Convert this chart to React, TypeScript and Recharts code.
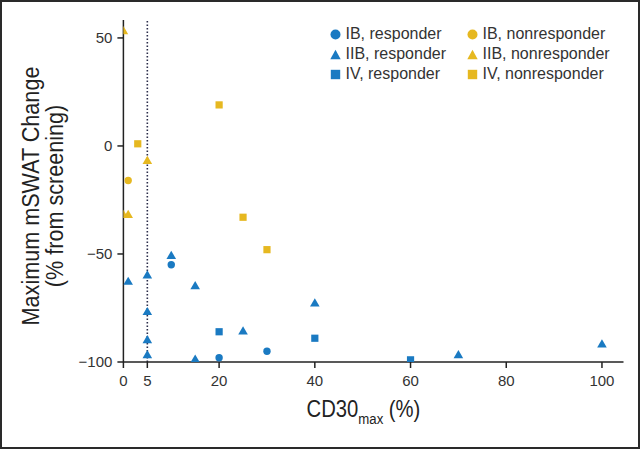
import React from "react";
import { ScatterChart, Scatter, XAxis, YAxis, ReferenceLine, Label } from "recharts";

const BLUE = "#1a7ac2";
const GOLD = "#e6b820";

// [CD30max %, max mSWAT change %]
const ibResponder: [number, number][] = [[10, -55], [20, -98], [30, -95]];
const ibNonresponder: [number, number][] = [[1, -16]];
const iibResponder: [number, number][] = [
  [1, -63], [5, -60], [5, -77], [5, -90], [5, -97], [10, -51],
  [15, -65], [15, -99], [25, -86], [40, -73], [70, -97], [100, -92],
];
const iibNonresponder: [number, number][] = [[0, 53], [0, -32], [1, -32], [5, -7]];
const ivResponder: [number, number][] = [[20, -86], [40, -89], [60, -99]];
const ivNonresponder: [number, number][] = [[3, 1], [20, 19], [25, -33], [30, -48]];

const xTicks = [0, 5, 20, 40, 60, 80, 100];
const yTicks = [-100, -50, 0, 50];

const titleFont = "'Liberation Sans', Arial, sans-serif";
const tickFont = "'Liberation Sans', Arial, sans-serif";

const pts = (a: [number, number][]) => a.map(([x, y]) => ({ x, y }));

const Dot = (p: any) => <circle cx={p.cx} cy={p.cy} r={3.7} fill={p.fill} />;
const Sq = (p: any) => <rect x={p.cx - 3.6} y={p.cy - 3.6} width={7.2} height={7.2} fill={p.fill} />;
const Tri = (p: any) => (
  <polygon
    points={`${p.cx},${p.cy - 5.4} ${p.cx - 4.8},${p.cy + 2.8} ${p.cx + 4.8},${p.cy + 2.8}`}
    fill={p.fill}
  />
);

const series = [
  { name: "IB, responder", data: ibResponder, color: BLUE, shape: Dot },
  { name: "IB, nonresponder", data: ibNonresponder, color: GOLD, shape: Dot },
  { name: "IIB, responder", data: iibResponder, color: BLUE, shape: Tri },
  { name: "IIB, nonresponder", data: iibNonresponder, color: GOLD, shape: Tri },
  { name: "IV, responder", data: ivResponder, color: BLUE, shape: Sq },
  { name: "IV, nonresponder", data: ivNonresponder, color: GOLD, shape: Sq },
];

function LegendMark({ shape, color }: { shape: any; color: string }) {
  let el;
  if (shape === Dot) el = <circle cx={5.5} cy={5.5} r={5} fill={color} />;
  else if (shape === Sq) el = <rect x={0.8} y={0.8} width={9.4} height={9.4} fill={color} />;
  else el = <polygon points="5.5,0.8 0.3,10.2 10.7,10.2" fill={color} />;
  return (
    <svg width={11} height={11} style={{ display: "block" }}>
      {el}
    </svg>
  );
}

function XTitle(props: any) {
  const vb = props.viewBox;
  const cx = vb.x + vb.width / 2 - 10;
  const y = vb.y + 55;
  return (
    <g transform={`translate(${cx}, ${y}) scale(0.88, 1)`}>
      <text x={0} y={0} textAnchor="middle" fill="#222" fontFamily={titleFont} fontSize={23}>
        CD30
        <tspan fontSize={15} dy={7}>max</tspan>
        <tspan dy={-7}> (%)</tspan>
      </text>
    </g>
  );
}

function YTitle(props: any) {
  const vb = props.viewBox;
  const cy = vb.y + vb.height / 2 + 5;
  return (
    <g fill="#222" fontFamily={titleFont} fontSize={24}>
      <text x={0} y={0} textAnchor="middle" transform={`translate(39, ${cy}) rotate(-90) scale(0.9, 1)`}>
        Maximum mSWAT Change
      </text>
      <text x={0} y={0} textAnchor="middle" transform={`translate(63, ${cy}) rotate(-90) scale(0.9, 1)`}>
        (% from screening)
      </text>
    </g>
  );
}

export default function App() {
  const cols = [335, 472];
  const rows = [34, 54, 74];
  return (
    <div style={{ position: "absolute", left: 0, top: 0, width: 640, height: 449, background: "#fff" }}>
      <ScatterChart width={640} height={449} margin={{ top: 20, right: 16.5, bottom: 57, left: 0 }}>
        <XAxis
          type="number"
          dataKey="x"
          domain={[0, 104.5]}
          ticks={xTicks}
          interval={0}
          allowDataOverflow
          height={30}
          tickSize={6}
          tickMargin={7}
          stroke="#222"
          strokeWidth={1.5}
          tick={{ fill: "#333", fontSize: 15, fontFamily: tickFont }}
        >
          <Label content={XTitle} />
        </XAxis>
        <YAxis
          type="number"
          dataKey="y"
          domain={[-100, 58.3]}
          ticks={yTicks}
          interval={0}
          allowDataOverflow
          width={123.4}
          tickSize={6}
          tickMargin={5}
          stroke="#222"
          strokeWidth={1.5}
          tickFormatter={(v: number) => String(v).replace("-", "\u2212")}
          tick={{ fill: "#333", fontSize: 15, fontFamily: tickFont }}
        >
          <Label content={YTitle} />
        </YAxis>
        <ReferenceLine x={5} stroke="#2b2d4a" strokeWidth={1.6} strokeDasharray="1.5 2" />
        {series.map((s) => (
          <Scatter
            key={s.name}
            name={s.name}
            data={pts(s.data)}
            fill={s.color}
            shape={s.shape}
            isAnimationActive={false}
          />
        ))}
      </ScatterChart>
      {series.map((s, i) => (
        <div
          key={s.name}
          style={{
            position: "absolute",
            left: cols[i % 2] - 5.5,
            top: rows[Math.floor(i / 2)] - 10,
            height: 20,
            display: "flex",
            alignItems: "center",
            gap: 5,
            fontFamily: tickFont,
            fontSize: 16,
            color: "#333",
            whiteSpace: "nowrap",
          }}
        >
          <LegendMark shape={s.shape} color={s.color} />
          <span>{s.name}</span>
        </div>
      ))}
      <div
        style={{
          position: "absolute",
          inset: 0,
          border: "2px solid #2a2a2a",
          boxSizing: "border-box",
          pointerEvents: "none",
        }}
      />
    </div>
  );
}
